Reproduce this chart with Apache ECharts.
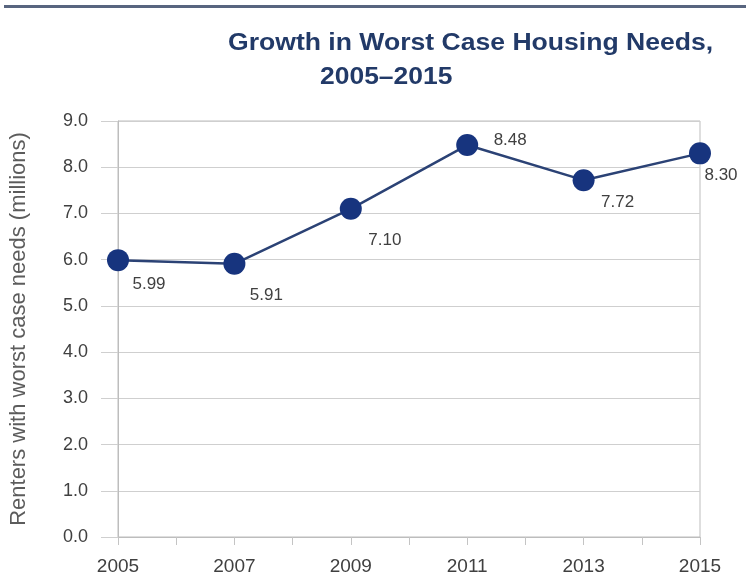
<!DOCTYPE html>
<html><head><meta charset="utf-8">
<script src="https://cdn.jsdelivr.net/npm/echarts@6/dist/echarts.min.js"></script>
<style>html,body{margin:0;padding:0;background:#fff}#c{width:746px;height:577px}</style>
</head><body><div id="c"></div>
<script>
const years = [2005, 2007, 2009, 2011, 2013, 2015];
const renters = [5.99, 5.91, 7.10, 8.48, 7.72, 8.30];
const yTicks = [0, 1, 2, 3, 4, 5, 6, 7, 8, 9];
const titleLine1 = 'Growth in Worst Case Housing Needs,';
const titleLine2 = '2005–2015';
const yName = 'Renters with worst case needs (millions)';

const labelOffsets = [[31, 24], [32, 31], [34, 31], [43, -5], [34, 22], [21, 22]];

const chart = echarts.init(document.getElementById('c'), null, {renderer: 'canvas'});
chart.setOption({
  animation: false,
  backgroundColor: '#fff',
  graphic: [
    {type: 'rect', shape: {x: 4, y: 5, width: 742, height: 3}, style: {fill: '#58657f'}},
    {type: 'text', x: 228, y: 32, scaleX: 1.155,
     style: {text: titleLine1, font: 'bold 23px "Liberation Sans"', fill: '#223a68'}},
    {type: 'text', x: 320, y: 66, scaleX: 1.15,
     style: {text: titleLine2, font: 'bold 23px "Liberation Sans"', fill: '#223a68'}}
  ],
  grid: {left: 118, right: 46, top: 121, bottom: 40, show: true, borderColor: '#bdbdbd', borderWidth: 1},
  xAxis: {
    type: 'value', min: 2005, max: 2015, interval: 1,
    axisLine: {show: true, lineStyle: {color: '#bdbdbd', width: 1}},
    axisTick: {show: true, length: 8, lineStyle: {color: '#c4c4c4'}},
    splitLine: {show: false},
    axisLabel: {
      margin: 20, fontFamily: 'Liberation Sans', fontSize: 19, color: '#404040',
      formatter: v => (years.indexOf(v) >= 0 ? String(v) : '')
    }
  },
  yAxis: {
    type: 'value', min: yTicks[0], max: yTicks[yTicks.length - 1], interval: 1,
    name: yName, nameLocation: 'middle', nameGap: 88, nameRotate: 90,
    nameTextStyle: {fontFamily: 'Liberation Sans', fontSize: 22, color: '#5c5c5c'},
    axisLine: {show: true, lineStyle: {color: '#bdbdbd', width: 1}},
    axisTick: {show: true, length: 17, lineStyle: {color: '#cfcfcf'}},
    splitLine: {show: true, lineStyle: {color: '#cfcfcf', width: 1}},
    axisLabel: {margin: 30, fontFamily: 'Liberation Sans', fontSize: 18, color: '#404040', formatter: v => v.toFixed(1)}
  },
  series: [{
    type: 'line',
    data: years.map((y, i) => ({
      value: [y, renters[i]],
      label: {offset: labelOffsets[i]}
    })),
    symbol: 'circle', symbolSize: 22,
    itemStyle: {color: '#17347e'},
    lineStyle: {color: '#2b4275', width: 2.5},
    label: {
      show: true, position: 'inside',
      formatter: p => renters[p.dataIndex].toFixed(2),
      fontFamily: 'Liberation Sans', fontSize: 17, color: '#404040'
    },
    z: 5
  }]
});
</script></body></html>
